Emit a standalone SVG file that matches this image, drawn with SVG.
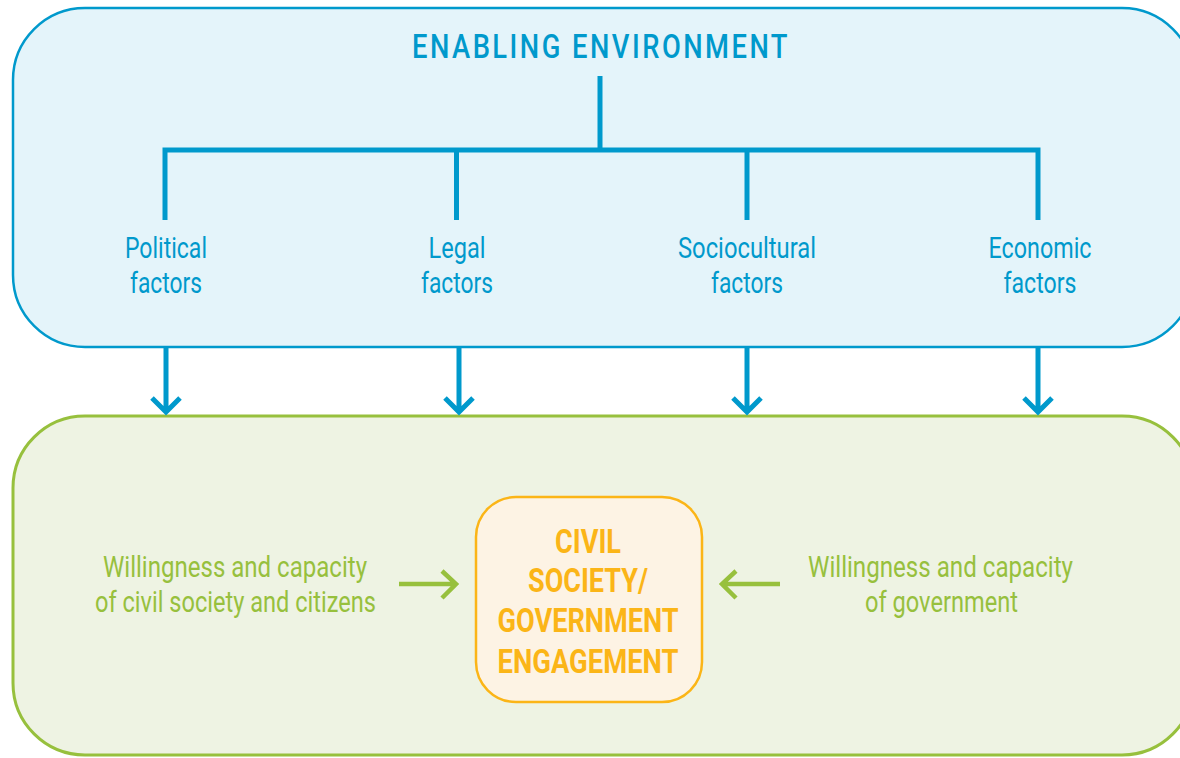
<svg xmlns="http://www.w3.org/2000/svg" width="1180" height="758" viewBox="0 0 1180 758">
<style>
.blue{fill:#0099cc;}
.lbl{font-family:Roboto,"Liberation Sans",sans-serif;font-size:29px;font-weight:400;text-anchor:middle;}
.grn{fill:#97c03d;}
.ctr{font-family:Roboto,"Liberation Sans",sans-serif;font-size:33px;font-weight:700;fill:#fbb517;text-anchor:middle;}
.bl{stroke:#0099cc;stroke-width:5;fill:none;}
.gl{stroke:#97c03d;stroke-width:4.5;fill:none;}
</style>
<rect width="1180" height="758" fill="#ffffff"/>
<g id="enabling-environment">
<rect x="13" y="8" width="1181" height="339" rx="72" fill="#e4f4fa" stroke="#0099cc" stroke-width="2.5"/>
<text x="601" y="58" font-family="Roboto,'Liberation Sans',sans-serif" font-size="33" font-weight="500" letter-spacing="3" text-anchor="middle" class="blue" textLength="378" lengthAdjust="spacingAndGlyphs">ENABLING ENVIRONMENT</text>
</g>
<g id="tree" class="bl">
<path d="M600 76 V150 M165 220 V150 H1038 V220 M456.5 150 V220 M747 150 V220"/>
</g>
<g id="political">
<text class="lbl blue" x="166" y="258" textLength="82" lengthAdjust="spacingAndGlyphs">Political</text>
<text class="lbl blue" x="166" y="293" textLength="72" lengthAdjust="spacingAndGlyphs">factors</text>
</g>
<g id="legal">
<text class="lbl blue" x="457" y="258" textLength="57" lengthAdjust="spacingAndGlyphs">Legal</text>
<text class="lbl blue" x="457" y="293" textLength="72" lengthAdjust="spacingAndGlyphs">factors</text>
</g>
<g id="sociocultural">
<text class="lbl blue" x="747" y="258" textLength="138" lengthAdjust="spacingAndGlyphs">Sociocultural</text>
<text class="lbl blue" x="747" y="293" textLength="72" lengthAdjust="spacingAndGlyphs">factors</text>
</g>
<g id="economic">
<text class="lbl blue" x="1040" y="258" textLength="103" lengthAdjust="spacingAndGlyphs">Economic</text>
<text class="lbl blue" x="1040" y="293" textLength="73" lengthAdjust="spacingAndGlyphs">factors</text>
</g>
<g id="engagement-context">
<rect x="13" y="416" width="1181" height="339" rx="72" fill="#eef3e3" stroke="#97c03d" stroke-width="3"/>
</g>
<g id="civil-society">
<text class="lbl grn" x="235" y="577" textLength="264" lengthAdjust="spacingAndGlyphs">Willingness and capacity</text>
<text class="lbl grn" x="235.5" y="612" textLength="281" lengthAdjust="spacingAndGlyphs">of civil society and citizens</text>
</g>
<g id="government">
<text class="lbl grn" x="940.5" y="577" textLength="265" lengthAdjust="spacingAndGlyphs">Willingness and capacity</text>
<text class="lbl grn" x="941.5" y="612" textLength="153" lengthAdjust="spacingAndGlyphs">of government</text>
</g>
<g id="cs-gov-engagement">
<rect x="476" y="497" width="226" height="205" rx="40" fill="#fdf3e4" stroke="#fbb517" stroke-width="2.5"/>
<text class="ctr" x="588" y="553" textLength="66" lengthAdjust="spacingAndGlyphs">CIVIL</text>
<text class="ctr" x="588" y="592" textLength="120" lengthAdjust="spacingAndGlyphs">SOCIETY/</text>
<text class="ctr" x="588" y="632" textLength="181" lengthAdjust="spacingAndGlyphs">GOVERNMENT</text>
<text class="ctr" x="588" y="673" textLength="181" lengthAdjust="spacingAndGlyphs">ENGAGEMENT</text>
</g>
<g id="connectors">
<g class="bl">
<path d="M166 348 V411 M152 398 L166 412 L180 398"/>
<path d="M459 348 V411 M445 398 L459 412 L473 398"/>
<path d="M747 348 V411 M733 398 L747 412 L761 398"/>
<path d="M1038 348 V411 M1024 398 L1038 412 L1052 398"/>
</g>
<g class="gl">
<path d="M399 584 H456 M442 571 L456 584 L442 598"/>
<path d="M780 584 H722 M736 571 L722 584 L736 598"/>
</g>
</g>
</svg>
